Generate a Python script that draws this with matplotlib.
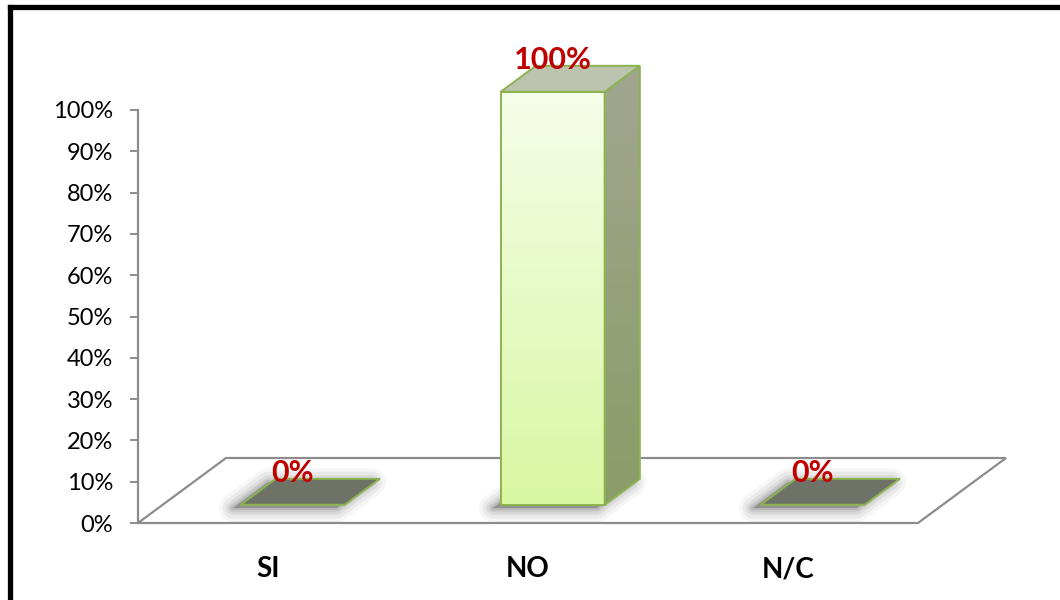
import numpy as np
import matplotlib
matplotlib.use("Agg")
import matplotlib.pyplot as plt
from matplotlib.patches import Polygon
from matplotlib.lines import Line2D

categories = ["SI", "NO", "N/C"]
values = [0, 100, 0]
value_labels = ["0%", "100%", "0%"]
y_ticks = [0, 10, 20, 30, 40, 50, 60, 70, 80, 90, 100]
y_tick_labels = [f"{t}%" for t in y_ticks]

W, H = 1060, 600
fig = plt.figure(figsize=(W / 100, H / 100), dpi=100)

# plot area in pixels (left, top of 100%, right, bottom of 0%)
px_l, px_t, px_r, px_b = 138, 110, 918, 523
ax = fig.add_axes([px_l / W, 1 - px_b / H, (px_r - px_l) / W, (px_b - px_t) / H])
ax.set_xlim(-0.5, 2.5)
ax.set_ylim(0, 100)

# depth of the 3D floor, in data units
px_per_cat = (px_r - px_l) / 3
px_per_pct = (px_b - px_t) / 100
DX = 88 / px_per_cat
DY = 65 / px_per_pct
d0, d1 = 0.28, 0.68   # bar occupies this slice of the floor depth
half = 0.2

EDGE = "#8db350"
AXIS_GRAY = "#8c8c8c"
FONT = ["Lato", "DejaVu Sans"]

# floor
floor = Polygon([(-0.5, 0), (2.5, 0), (2.5 + DX, DY), (-0.5 + DX, DY)],
                closed=True, facecolor="white", edgecolor=AXIS_GRAY,
                lw=1.6, clip_on=False, zorder=1)
ax.add_patch(floor)


def glow(pts, dx=0.0, dy=0.0, zorder=2):
    pts = [(x + dx, y + dy) for x, y in pts]
    for lw, a in [(20, 0.05), (15, 0.07), (10, 0.09), (6, 0.12), (3, 0.15)]:
        ax.add_patch(Polygon(pts, closed=True, facecolor=(0.35, 0.35, 0.35, a),
                             edgecolor=(0.35, 0.35, 0.35, a), lw=lw,
                             joinstyle="round", clip_on=False, zorder=zorder))


def grad_fill(poly_pts, c_top, c_bot, zorder):
    xs = [p[0] for p in poly_pts]
    ys = [p[1] for p in poly_pts]
    c_top = np.array(matplotlib.colors.to_rgb(c_top))
    c_bot = np.array(matplotlib.colors.to_rgb(c_bot))
    t = np.linspace(0, 1, 256)[:, None]
    img = (c_top * (1 - t) + c_bot * t)[:, None, :]
    im = ax.imshow(img, extent=[min(xs), max(xs), min(ys), max(ys)],
                   origin="upper", aspect="auto", zorder=zorder,
                   interpolation="bilinear")
    clip = Polygon(poly_pts, closed=True, transform=ax.transData,
                   facecolor="none", edgecolor="none")
    im.set_clip_path(clip)
    im.set_clip_box(fig.bbox)
    ax.add_patch(Polygon(poly_pts, closed=True, facecolor="none",
                         edgecolor=EDGE, lw=1.4, clip_on=False,
                         zorder=zorder + 0.1))


for i, (v, lab) in enumerate(zip(values, value_labels)):
    fx0 = i - half + d0 * DX
    fx1 = i + half + d0 * DX
    fy = d0 * DY
    bdx = (d1 - d0) * DX
    bdy = (d1 - d0) * DY
    base = [(fx0, fy), (fx1, fy), (fx1 + bdx, fy + bdy), (fx0 + bdx, fy + bdy)]
    glow(base, dx=-0.03, dy=-0.8)
    if v == 0:
        ax.add_patch(Polygon(base, closed=True, facecolor="#6f7367",
                             edgecolor=EDGE, lw=1.4, clip_on=False, zorder=3))
    else:
        front = [(fx0, fy), (fx1, fy), (fx1, fy + v), (fx0, fy + v)]
        side = [(fx1, fy), (fx1 + bdx, fy + bdy), (fx1 + bdx, fy + bdy + v),
                (fx1, fy + v)]
        top = [(fx0, fy + v), (fx1, fy + v), (fx1 + bdx, fy + bdy + v),
               (fx0 + bdx, fy + bdy + v)]
        grad_fill(front, "#f6fde9", "#d8f7a2", 4)
        grad_fill(side, "#a1a68f", "#8b9c68", 4)
        ax.add_patch(Polygon(top, closed=True, facecolor="#bcc3ae",
                             edgecolor=EDGE, lw=1.4, clip_on=False, zorder=5))
    ax.text(i + d0 * DX, v + 8.6, lab, ha="center", va="bottom",
            fontsize=22, fontweight="bold", color="#c00000",
            family=FONT, zorder=10, clip_on=False)

# axes styling
for s in ["top", "right", "bottom"]:
    ax.spines[s].set_visible(False)
ax.spines["left"].set_color(AXIS_GRAY)
ax.spines["left"].set_linewidth(1.6)
ax.spines["left"].set_zorder(6)
ax.set_yticks(y_ticks)
ax.set_yticklabels(y_tick_labels, family=FONT, fontsize=17)
ax.tick_params(axis="y", length=6, width=1.4, color=AXIS_GRAY, pad=12)
ax.set_xticks(range(len(categories)))
ax.set_xticklabels(categories, family=FONT, fontsize=20, fontweight="bold")
ax.tick_params(axis="x", length=0, pad=24)
ax.patch.set_visible(False)

# outer chart frame (left and top edges visible)
fig.add_artist(Line2D([9.5 / W, 9.5 / W], [0, 1 - 6.5 / H], color="black",
                      lw=3.8, transform=fig.transFigure, solid_capstyle="projecting"))
fig.add_artist(Line2D([9.5 / W, 1], [1 - 6.5 / H, 1 - 6.5 / H], color="black",
                      lw=3.8, transform=fig.transFigure, solid_capstyle="projecting"))

fig.savefig("out.png", dpi=100)
